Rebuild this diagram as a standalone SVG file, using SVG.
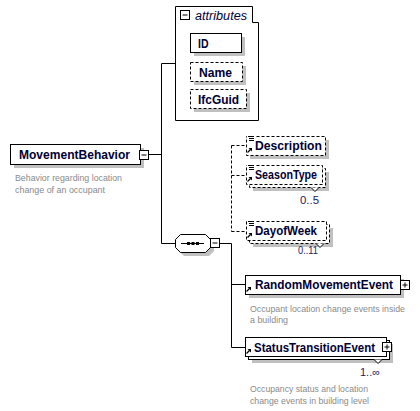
<svg xmlns="http://www.w3.org/2000/svg" width="420" height="411" viewBox="0 0 420 411">
<style>
.box{fill:#fff;stroke:#000;stroke-width:1}
.opt{stroke-dasharray:3 2}
.shadow{fill:#c0c0c0}
.ln{fill:none;stroke:#000;stroke-width:1}
.dash{stroke-dasharray:3 2}
.name{font-family:"Liberation Sans",Arial,sans-serif;font-weight:bold;font-size:12px;fill:#000033}
.attr{font-family:"Liberation Sans",Arial,sans-serif;font-style:italic;font-size:12px;fill:#000033}
.occ{font-family:"Liberation Sans",Arial,sans-serif;font-size:11px;fill:#1a1a5a}
.doc{font-family:"Liberation Sans",Arial,sans-serif;font-size:9px;fill:#8a8a8a}
.btn{fill:#fff;stroke:#000;stroke-width:1}
.ico{fill:none;stroke:#000;stroke-width:1}
</style>
<defs>
<g id="minus"><rect class="btn" x="0.5" y="0.5" width="9" height="9"/><path class="ico" d="M2.5,5H7.5"/></g>
<g id="plus"><rect class="btn" x="0.5" y="0.5" width="9" height="9"/><path class="ico" d="M2.5,5H7.5M5,2.5V7.5"/></g>
<g id="simple"><rect x="0" y="-1" width="8" height="7" fill="#fff"/><path class="ico" d="M1,0.5H7M2,2.5H7M2,4.5H7"/></g>
<g id="ref"><path d="M0.5,4.5L3.5,1.5" stroke="#000" stroke-width="1.3"/><path d="M1.5,0H5V3.5Z" fill="#000"/></g>
</defs>

<g id="connectors">
<path class="ln" d="M148.5,154.5H161.5M161.5,63.5V243.5M161.5,63.5H176M161.5,243.5H175"/>
<path class="ln" d="M219.5,243.5H231.5M231.5,243.5V347.5M231.5,284.5H245.5M231.5,347.5H245.5"/>
<path class="ln dash" d="M231.5,145.5V231.5M231.5,145.5H246.5M231.5,175.5H246.5M231.5,231.5H246.5"/>
</g>

<g id="node-MovementBehavior">
<rect class="shadow" x="14" y="148" width="130" height="20"/>
<rect class="box" x="10.5" y="144.5" width="130" height="20"/>
<text class="name" x="19" y="158.5" textLength="111" lengthAdjust="spacingAndGlyphs">MovementBehavior</text>
<use href="#minus" x="139" y="150"/>
<text class="doc" x="15" y="181" textLength="107" lengthAdjust="spacingAndGlyphs">Behavior regarding location</text>
<text class="doc" x="15" y="193" textLength="90" lengthAdjust="spacingAndGlyphs">change of an occupant</text>
</g>

<g id="node-attributes">
<path class="box" d="M175.5,6.5H252.5V22.5H258.5V120.5H175.5Z"/>
<use href="#minus" x="180" y="10"/>
<text class="attr" x="195" y="20" textLength="52" lengthAdjust="spacingAndGlyphs">attributes</text>
</g>

<g id="node-ID">
<rect class="shadow" x="194" y="37" width="51" height="19"/>
<rect class="box" x="190.5" y="33.5" width="51" height="19"/>
<text class="name" x="198" y="47.5" textLength="10.5" lengthAdjust="spacingAndGlyphs">ID</text>
</g>

<g id="node-Name">
<rect class="shadow" x="194" y="66" width="52" height="19"/>
<rect class="box opt" x="190.5" y="62.5" width="52" height="19"/>
<text class="name" x="199" y="76.5" textLength="33" lengthAdjust="spacingAndGlyphs">Name</text>
</g>

<g id="node-IfcGuid">
<rect class="shadow" x="194" y="93" width="56" height="19"/>
<rect class="box opt" x="190.5" y="89.5" width="56" height="19"/>
<text class="name" x="198" y="103.5" textLength="41" lengthAdjust="spacingAndGlyphs">IfcGuid</text>
</g>

<g id="node-sequence">
<path class="shadow" d="M184,238H209L214,243V251L209,256H184L179,251V243Z"/>
<path class="box" d="M180.5,234.5H205.5L210.5,239.5V247.5L205.5,252.5H180.5L175.5,247.5V239.5Z"/>
<path class="ln" d="M181,243.5H204"/>
<rect x="187" y="242" width="3" height="3" fill="#000"/>
<rect x="191.5" y="242" width="3" height="3" fill="#000"/>
<rect x="196" y="242" width="3" height="3" fill="#000"/>
<use href="#minus" x="210" y="238"/>
</g>

<g id="node-Description">
<rect class="shadow" x="250" y="140" width="79" height="19"/>
<rect class="box opt" x="246.5" y="136.5" width="79" height="19"/>
<use href="#simple" x="247" y="136"/>
<use href="#ref" x="247" y="148"/>
<text class="name" x="255" y="150" textLength="67" lengthAdjust="spacingAndGlyphs">Description</text>
</g>

<g id="node-SeasonType">
<rect class="shadow" x="253" y="172" width="76" height="19"/>
<rect class="box opt" x="249.5" y="168.5" width="76" height="19"/>
<rect class="box opt" x="246.5" y="165.5" width="76" height="19"/>
<path class="box" d="M311,187.5L315,191.5L319,187.5"/>
<use href="#simple" x="247" y="165"/>
<use href="#ref" x="247" y="177"/>
<text class="name" x="255" y="179" textLength="62" lengthAdjust="spacingAndGlyphs">SeasonType</text>
<text class="occ" x="300" y="204" textLength="19" lengthAdjust="spacingAndGlyphs">0..5</text>
</g>

<g id="node-DayofWeek">
<rect class="shadow" x="253" y="228" width="80" height="19"/>
<rect class="box opt" x="249.5" y="224.5" width="80" height="19"/>
<rect class="box opt" x="246.5" y="221.5" width="80" height="19"/>
<path class="box" d="M316,243.5L320,247.5L324,243.5"/>
<use href="#simple" x="247" y="221"/>
<use href="#ref" x="247" y="233"/>
<text class="name" x="255" y="235" textLength="62" lengthAdjust="spacingAndGlyphs">DayofWeek</text>
<text class="occ" x="298" y="254" textLength="20" lengthAdjust="spacingAndGlyphs">0..11</text>
</g>

<g id="node-RandomMovementEvent">
<rect class="shadow" x="249" y="279" width="155" height="19"/>
<rect class="box" x="245.5" y="275.5" width="155" height="19"/>
<use href="#ref" x="246" y="287"/>
<text class="name" x="255" y="289" textLength="138" lengthAdjust="spacingAndGlyphs">RandomMovementEvent</text>
<use href="#plus" x="400" y="280"/>
<text class="doc" x="250" y="312" textLength="155" lengthAdjust="spacingAndGlyphs">Occupant location change events inside</text>
<text class="doc" x="250" y="323" textLength="38" lengthAdjust="spacingAndGlyphs">a building</text>
</g>

<g id="node-StatusTransitionEvent">
<rect class="shadow" x="252" y="344" width="141" height="19"/>
<rect class="box" x="248.5" y="340.5" width="141" height="19"/>
<rect class="box" x="245.5" y="337.5" width="141" height="19"/>
<path class="box" d="M374,359.5L378,363.5L382,359.5"/>
<use href="#ref" x="246" y="349"/>
<text class="name" x="254" y="351.5" textLength="121" lengthAdjust="spacingAndGlyphs">StatusTransitionEvent</text>
<use href="#plus" x="382" y="342"/>
<text class="occ" x="360" y="376" textLength="20" lengthAdjust="spacingAndGlyphs">1..∞</text>
<text class="doc" x="250" y="392" textLength="118" lengthAdjust="spacingAndGlyphs">Occupancy status and location</text>
<text class="doc" x="250" y="404" textLength="119" lengthAdjust="spacingAndGlyphs">change events in building level</text>
</g>
</svg>
